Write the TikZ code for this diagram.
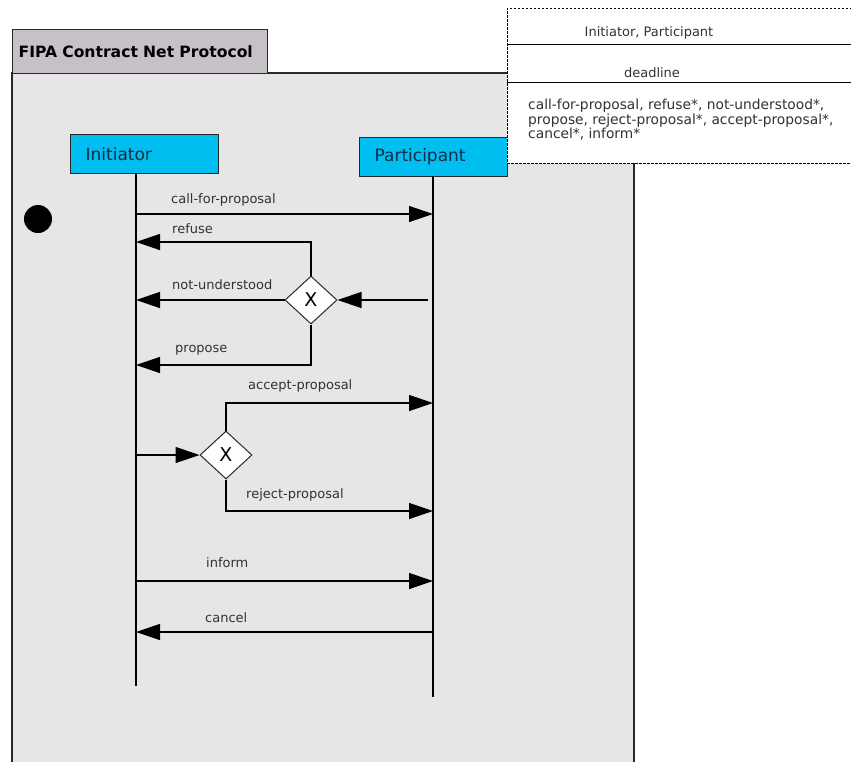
\documentclass[tikz,border=0pt]{standalone}
\usepackage{fontspec}
\setmainfont{DejaVu Sans}
\usetikzlibrary{arrows.meta,shapes.geometric}
\definecolor{framegray}{RGB}{230,230,230}
\definecolor{tabgray}{RGB}{198,193,198}
\definecolor{lifecyan}{RGB}{0,190,240}
\definecolor{edgedark}{RGB}{40,40,40}
\definecolor{labeltext}{RGB}{50,50,50}
\definecolor{boxtext}{RGB}{20,45,70}
\tikzset{
  lifebox/.style={draw=edgedark,line width=1.2pt,fill=lifecyan,rectangle,anchor=north west,
    minimum height=39pt,inner xsep=15pt,inner ysep=0pt,text width=118pt,align=left,
    text=boxtext,font=\fontsize{17}{17}\selectfont},
  lifeline/.style={line width=1.3pt,black},
  msg/.style={line width=1.3pt,black,-{Triangle[length=24pt,width=16pt]}},
  gate/.style={shape=diamond,draw=edgedark,line width=1pt,fill=white,minimum width=52pt,
    minimum height=48pt,inner sep=0pt,font=\fontsize{19}{19}\selectfont},
  msglabel/.style={anchor=west,inner sep=0pt,text=labeltext,font=\fontsize{13}{13}\selectfont},
  infotext/.style={inner sep=0pt,text=labeltext,font=\fontsize{13}{13}\selectfont},
  dashline/.style={line width=1pt,black,dash pattern=on 2.5pt off 1.5pt},
}
\begin{document}
\begin{tikzpicture}[x=1pt,y=-1pt]
\useasboundingbox (0,0) rectangle (851,761);
% main frame
\fill[framegray] (12,73) rectangle (634,770);
\draw[edgedark,line width=1.2pt] (12,770) -- (12,73) -- (634,73) -- (634,770);
% title tab
\node[draw=edgedark,line width=1.2pt,fill=tabgray,anchor=north west,minimum width=255pt,
  minimum height=44pt,inner xsep=6pt,text width=243pt,align=left,
  font=\bfseries\fontsize{15.6}{15.6}\selectfont,text=black] (title) at (12,29) {FIPA Contract Net Protocol};
% lifeline boxes
\node[lifebox,minimum width=148pt] (ini) at (70,134) {Initiator};
\node[lifebox,minimum width=148pt] (par) at (359,137) {Participant};
% parameter box
\fill[white] (507,8) rectangle (860,163);
\draw[dashline] (860,8) -- (507,8) -- (507,163) -- (860,163);
\draw[line width=1pt,black] (507,44) -- (860,44);
\draw[line width=1pt,black] (507,82) -- (860,82);
\node[infotext] (roles) at (649,33) {Initiator, Participant};
\node[infotext] (dl) at (652,73) {deadline};
\node[infotext,anchor=north west,align=left,font=\fontsize{13.8}{13}\selectfont] (acts) at (528,99)
  {call-for-proposal, refuse*, not-understood*,\\propose, reject-proposal*, accept-proposal*,\\cancel*, inform*};
% initial state
\node[circle,fill=black,minimum size=28pt,inner sep=0pt] (start) at (38,219) {};
% lifelines
\coordinate (iTop) at (136,173);
\coordinate (iBot) at (136,686);
\coordinate (pTop) at (433,176);
\coordinate (pBot) at (433,697);
\draw[lifeline] (iTop) -- (iBot);
\draw[lifeline] (pTop) -- (pBot);
% message coordinates
\coordinate (i1) at (136,214); \coordinate (p1) at (433,214);
\coordinate (i2) at (136,242);
\coordinate (i3) at (136,300);
\coordinate (i4) at (136,365);
\coordinate (p3) at (428,300);
\coordinate (i5) at (136,455);
\coordinate (p5) at (433,403);
\coordinate (p6) at (433,511);
\coordinate (i7) at (136,581); \coordinate (p7) at (433,581);
\coordinate (i8) at (136,632); \coordinate (p8) at (433,632);
% gates
\node[gate] (d1) at (311,300) {X};
\node[gate] (d2) at (226,455) {X};
% messages
\draw[msg] (i1) -- (p1);
\draw[msg] (d1.north) |- (i2);
\draw[msg] (d1.west) -- (i3);
\draw[msg] (d1.south) |- (i4);
\draw[msg] (p3) -- (d1.east);
\draw[msg] (i5) -- (d2.west);
\draw[msg] (d2.north) |- (p5);
\draw[msg] (d2.south) |- (p6);
\draw[msg] (i7) -- (p7);
\draw[msg] (p8) -- (i8);
% labels
\node[msglabel] (l1) at (171,200) {call-for-proposal};
\node[msglabel] (l2) at (172,229) {refuse};
\node[msglabel] (l3) at (172,285) {not-understood};
\node[msglabel] (l4) at (175,350) {propose};
\node[msglabel] (l5) at (248,386) {accept-proposal};
\node[msglabel] (l6) at (246,495) {reject-proposal};
\node[msglabel] (l7) at (206,563) {inform};
\node[msglabel] (l8) at (205,618) {cancel};
\end{tikzpicture}
\end{document}
